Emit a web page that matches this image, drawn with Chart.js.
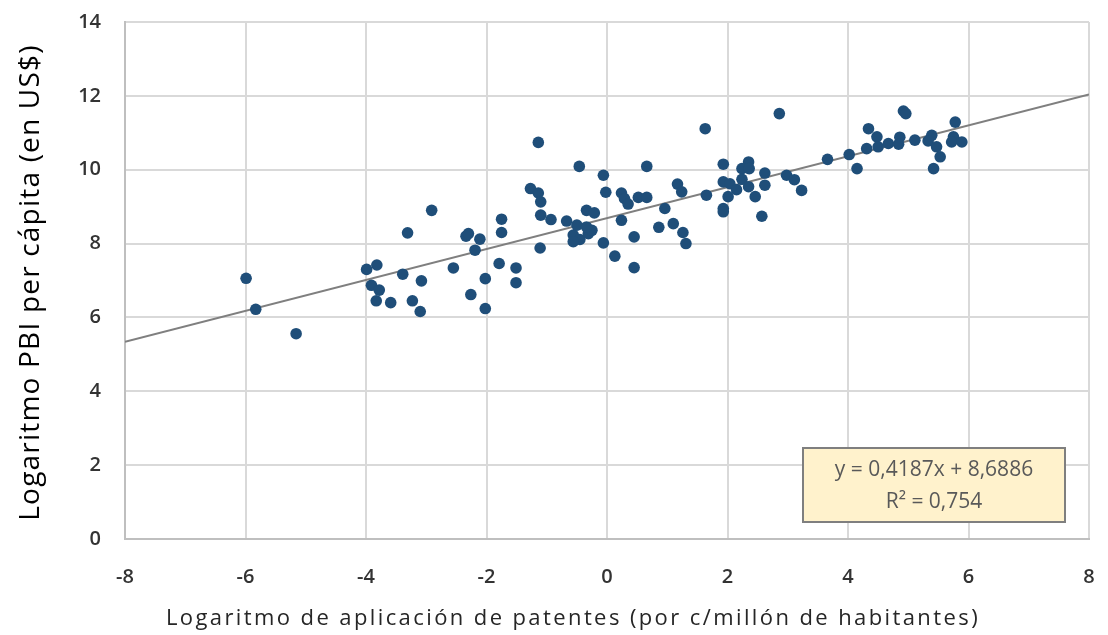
<!DOCTYPE html>
<html lang="es">
<head>
<meta charset="utf-8">
<title>Patentes y PBI per cápita</title>
<script src="https://cdn.jsdelivr.net/npm/chart.js@4/dist/chart.umd.min.js"></script>
<style>
  html, body { margin:0; padding:0; background:#fff; }
  #wrap { width:1108px; height:635px; position:relative; }
</style>
</head>
<body>
<div id="wrap"><canvas id="chart_scatter" width="1108" height="635"></canvas></div>
<script>
// Países: log de solicitudes de patentes (x) vs log PBI per cápita (y)
const patentesLog = [
  -5.99, -5.83, -5.16,
  -3.99, -3.82, -3.39, -3.08, -3.91, -3.78, -3.83, -3.59, -3.23, -3.10, -3.31, -2.91,
  -2.34, -2.30, -2.11, -2.19, -2.55, -2.02, -2.26, -2.02,
  -1.79, -1.51, -1.51, -1.75, -1.75, -1.11,
  -1.27, -1.14, -1.10, -1.14, -1.10,
  -0.93, -0.67, -0.50, -0.34, -0.21, -0.56, -0.45, -0.56, -0.31, -0.25, -0.34, -0.06,
  -0.46, -0.06, -0.02,
  0.24, 0.24, 0.29, 0.35, 0.52, 0.66, 0.96, 1.17, 1.24, 0.66,
  0.13, 0.45, 0.45, 0.86, 1.10, 1.26, 1.31,
  1.63, 2.86,
  1.93, 2.35, 2.24, 2.36, 2.62, 1.93, 2.04, 2.24, 1.65, 2.15, 2.35, 2.62, 2.01, 2.46, 1.93, 1.93, 2.57,
  2.98, 3.11, 3.23,
  3.66, 4.02, 4.15,
  4.34, 4.48, 4.31, 4.50, 4.67, 4.86, 4.84, 4.92, 4.96, 5.11, 5.39, 5.33, 5.47, 5.53, 5.42, 5.78, 5.75, 5.72, 5.89
];
const pbiLog = [
  7.06, 6.22, 5.56,
  7.30, 7.42, 7.17, 6.99, 6.87, 6.74, 6.45, 6.40, 6.45, 6.16, 8.29, 8.90,
  8.20, 8.27, 8.12, 7.82, 7.34, 7.05, 6.62, 6.24,
  7.46, 7.34, 6.94, 8.66, 8.30, 7.88,
  9.49, 9.37, 9.13, 10.74, 8.77,
  8.65, 8.61, 8.50, 8.90, 8.83, 8.23, 8.11, 8.05, 8.27, 8.36, 8.45, 8.02,
  10.09, 9.85, 9.39,
  8.63, 9.37, 9.22, 9.07, 9.25, 9.25, 8.95, 9.61, 9.40, 10.09,
  7.66, 7.35, 8.18, 8.44, 8.54, 8.30, 8.00,
  11.11, 11.52,
  10.15, 10.21, 10.03, 10.03, 9.91, 9.67, 9.62, 9.74, 9.31, 9.46, 9.54, 9.58, 9.27, 9.27, 8.95, 8.86, 8.74,
  9.85, 9.73, 9.44,
  10.28, 10.41, 10.03,
  11.11, 10.89, 10.57, 10.62, 10.71, 10.88, 10.69, 11.59, 11.52, 10.80, 10.93, 10.78, 10.62, 10.35, 10.03, 11.29, 10.89, 10.75, 10.75
];

// Recta de tendencia lineal (Excel)
const pendiente = 0.4187;
const ordenada = 8.6886;
const r2 = 0.754;
const rangoX = [-8, 8];
const xTicks = [-8, -6, -4, -2, 0, 2, 4, 6, 8];
const yTicks = [0, 2, 4, 6, 8, 10, 12, 14];
const tituloX = 'Logaritmo de aplicación de patentes (por c/millón de habitantes)';
const tituloY = 'Logaritmo PBI per cápita (en US$)';

const fmt = v => String(v).replace('.', ',');

const puntos = patentesLog.map((x, i) => ({ x, y: pbiLog[i] }));
const tendencia = rangoX.map(x => ({ x, y: pendiente * x + ordenada }));

const FONT = "'Open Sans', Lato, sans-serif";

// Títulos de ejes (con algo de espaciado entre letras, como en la planilla)
const titulosEjes = {
  id: 'titulosEjes',
  afterDraw(chart) {
    const { ctx, chartArea } = chart;
    ctx.save();
    ctx.textAlign = 'center';
    ctx.textBaseline = 'middle';
    ctx.fillStyle = '#262626';
    ctx.font = '22px ' + FONT;
    ctx.letterSpacing = '2.4px';
    ctx.fillText(tituloX, (chartArea.left + chartArea.right) / 2 - 34, 619);
    ctx.fillStyle = '#000';
    ctx.font = '28px ' + FONT;
    ctx.letterSpacing = '1.2px';
    ctx.translate(31, (chartArea.top + chartArea.bottom) / 2 + 2);
    ctx.rotate(-Math.PI / 2);
    ctx.fillText(tituloY, 0, 0);
    ctx.restore();
  }
};

// Cuadro con la ecuación de la tendencia
const cuadroEcuacion = {
  id: 'cuadroEcuacion',
  afterDraw(chart) {
    const { ctx, chartArea } = chart;
    const w = 262, h = 74;
    const x0 = chartArea.right - 286, y0 = chartArea.bottom - 91;
    ctx.save();
    ctx.fillStyle = '#fff2cc';
    ctx.strokeStyle = '#7f7f7f';
    ctx.lineWidth = 2;
    ctx.fillRect(x0, y0, w, h);
    ctx.strokeRect(x0, y0, w, h);
    ctx.fillStyle = '#595959';
    ctx.font = '21px ' + FONT;
    ctx.textAlign = 'center';
    ctx.textBaseline = 'middle';
    ctx.fillText('y = ' + fmt(pendiente) + 'x + ' + fmt(ordenada), x0 + w / 2, y0 + 22);
    ctx.fillText('R\u00b2 = ' + fmt(r2), x0 + w / 2, y0 + 54);
    ctx.restore();
  }
};

const sinPadding = s => { s.paddingTop = 0; s.paddingBottom = 0; s.paddingLeft = 0; s.paddingRight = 0; };

const ctx = document.getElementById('chart_scatter');
new Chart(ctx, {
  type: 'scatter',
  data: {
    datasets: [
      {
        label: 'Países',
        data: puntos,
        backgroundColor: '#1f4e79',
        borderColor: '#1f4e79',
        borderWidth: 0,
        pointRadius: 5.8,
        order: 1
      },
      {
        type: 'line',
        label: 'Tendencia',
        data: tendencia,
        borderColor: '#7f7f7f',
        borderWidth: 2,
        pointRadius: 0,
        fill: false,
        order: 2
      }
    ]
  },
  options: {
    responsive: false,
    animation: false,
    layout: { padding: { top: 22, right: 19, left: 0, bottom: 0 } },
    plugins: { legend: { display: false }, tooltip: { enabled: false } },
    scales: {
      x: {
        type: 'linear', min: -8, max: 8,
        afterBuildTicks: s => { s.ticks = xTicks.map(v => ({ value: v })); },
        afterFit: s => { s.height = 96; sinPadding(s); },
        grid: { color: '#d9d9d9', lineWidth: 2, drawTicks: false },
        border: { color: '#bfbfbf', width: 2 },
        ticks: { color: '#333', font: { family: FONT, size: 20, weight: '600' }, padding: 26 },
        title: { display: false, text: tituloX }
      },
      y: {
        type: 'linear', min: 0, max: 14,
        afterBuildTicks: s => { s.ticks = yTicks.map(v => ({ value: v })); },
        afterFit: s => { s.width = 125; sinPadding(s); },
        grid: { color: '#d9d9d9', lineWidth: 2, drawTicks: false },
        border: { color: '#bfbfbf', width: 2 },
        ticks: { color: '#333', font: { family: FONT, size: 20, weight: '600' }, padding: 24 },
        title: { display: false, text: tituloY }
      }
    }
  },
  plugins: [cuadroEcuacion, titulosEjes]
});
</script>
</body>
</html>
